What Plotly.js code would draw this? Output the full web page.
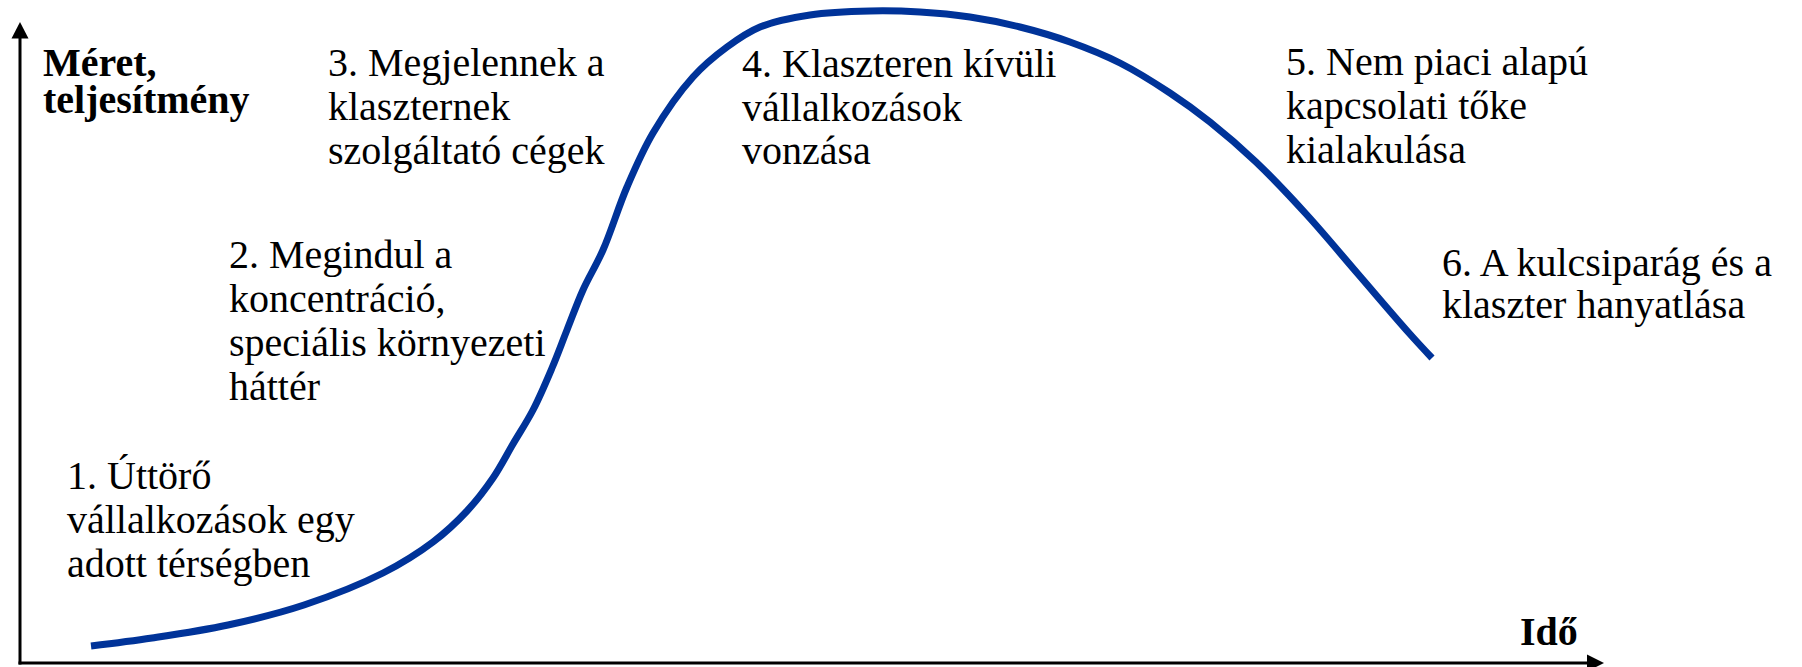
<!DOCTYPE html>
<html>
<head>
<meta charset="utf-8">
<script src="https://cdn.plot.ly/plotly-3.0.1.min.js"></script>
<style>
  html, body { margin: 0; padding: 0; background: #ffffff; }
  #chart { width: 1802px; height: 667px; }
</style>
</head>
<body>
<div id="chart"></div>
<script>
// ---- Data ----
const timeValues = [91, 152, 228, 304, 383, 433, 467, 493, 513, 533, 552, 567, 583, 603, 627, 653, 693, 727, 760, 810, 870, 920, 970, 1020, 1070, 1120, 1170, 1210, 1256, 1307, 1358, 1409, 1432];
const sizeValues = [21, 29, 42, 62, 94, 125, 156, 189, 223, 257, 299, 337, 377, 417, 480, 534, 590, 620, 640, 652, 656, 655, 650, 640, 625, 604, 574, 545, 505, 452, 393, 334, 309];

const yAxisLabel = ["Méret,", "teljesítmény"];
const xAxisLabel = "Idő";
const stageLabels = [
  ["1. Úttörő", "vállalkozások egy", "adott térségben"],
  ["2. Megindul a", "koncentráció,", "speciális környezeti", "háttér"],
  ["3. Megjelennek a", "klaszternek", "szolgáltató cégek"],
  ["4. Klaszteren kívüli", "vállalkozások", "vonzása"],
  ["5. Nem piaci alapú", "kapcsolati tőke", "kialakulása"],
  ["6. A kulcsiparág és a", "klaszter hanyatlása"]
];

// ---- Layout helpers (positions / styles) ----
const W = 1802, H = 667;
const FONT = "Liberation Serif";
const FS = 40;
// left x of text and first baseline (page pixels), line step
const stagePos = [
  { x: 67,   base: 489, step: 44 },
  { x: 229,  base: 268, step: 44 },
  { x: 328,  base: 76,  step: 44 },
  { x: 742,  base: 77,  step: 43.5 },
  { x: 1286, base: 75,  step: 44 },
  { x: 1442, base: 276, step: 42 }
];
const toY = py => H - py;            // page pixel row -> axis value
const centerFromBase = b => b - 13.5; // bbox centre from baseline for 40px serif

const annotations = [];
function addLine(text, x, base, bold) {
  annotations.push({
    x: x - 2, y: toY(centerFromBase(base)), xref: "x", yref: "y",
    xanchor: "left", yanchor: "middle", showarrow: false,
    text: bold ? "<b>" + text + "</b>" : text,
    font: { family: FONT, size: FS, color: "#000000" }
  });
}
stageLabels.forEach((lines, i) => {
  const p = stagePos[i];
  lines.forEach((t, j) => addLine(t, p.x, p.base + j * p.step, false));
});
addLine(yAxisLabel[0], 43, 76, true);
addLine(yAxisLabel[1], 43, 113, true);
addLine(xAxisLabel, 1520, 645, true);

const axisY = 663, axisX = 20;
const shapes = [
  { type: "line", xref: "x", yref: "y", x0: axisX, x1: axisX, y0: toY(axisY + 1.5), y1: toY(36),
    line: { color: "#000", width: 3 } },
  { type: "path", xref: "x", yref: "y",
    path: `M ${axisX - 8.5},${toY(38.5)} L ${axisX},${toY(22)} L ${axisX + 8.5},${toY(38.5)} Z`,
    fillcolor: "#000", line: { color: "#000", width: 0 } },
  { type: "line", xref: "x", yref: "y", x0: axisX - 1.5, x1: 1590, y0: toY(axisY), y1: toY(axisY),
    line: { color: "#000", width: 3 } },
  { type: "path", xref: "x", yref: "y",
    path: `M 1587,${toY(axisY - 8.5)} L 1604,${toY(axisY)} L 1587,${toY(axisY + 8.5)} Z`,
    fillcolor: "#000", line: { color: "#000", width: 0 } }
];

const trace = {
  x: timeValues, y: sizeValues, type: "scatter", mode: "lines",
  line: { color: "#003399", width: 7, shape: "spline", smoothing: 1 },
  hoverinfo: "skip"
};

const layout = {
  width: W, height: H,
  margin: { l: 0, r: 0, t: 0, b: 0, pad: 0 },
  paper_bgcolor: "#ffffff", plot_bgcolor: "#ffffff",
  showlegend: false,
  font: { family: FONT, color: "#000000" },
  xaxis: { range: [0, W], visible: false, fixedrange: true },
  yaxis: { range: [0, H], visible: false, fixedrange: true },
  annotations: annotations,
  shapes: shapes
};

Plotly.newPlot("chart", [trace], layout, { staticPlot: true, displayModeBar: false });
</script>
</body>
</html>
